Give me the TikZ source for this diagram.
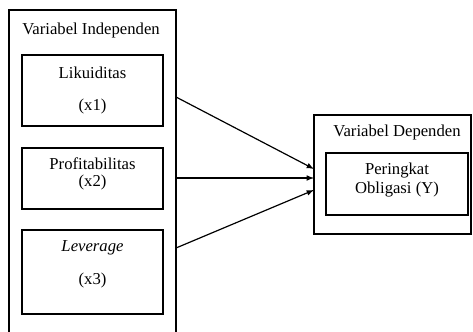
\documentclass[tikz,border=0pt]{standalone}
\usepackage{fontspec}
\setmainfont{Liberation Serif}

\tikzstyle{outerbox} = [draw,line width=0.8pt,inner sep=0pt]
\tikzstyle{varbox} = [draw,line width=0.8pt,inner sep=0pt]
\tikzstyle{label} = [font=\fontsize{12.5}{14}\selectfont,inner sep=0pt]
\tikzstyle{arrowdecorate} = [->,>=latex,line width=0.9pt]

\begin{document}
\begin{tikzpicture}[x=0.75pt,y=-0.75pt]
    \clip (0,0) rectangle (473,331);
    %% boxes
    \node[outerbox, minimum width=167*0.75pt, minimum height=360*0.75pt] (indep) at (92.5,190) {};
    \node[outerbox, minimum width=157*0.75pt, minimum height=119*0.75pt] (dep) at (392.5,174.5) {};
    \foreach \nodename/\x/\y/\w/\h in {
      likuiditas/92.5/90.5/141/71,
      profit/92.5/178.5/141/61,
      leverage/92.5/272/141/84,
      peringkat/397/184/142/62}
    {
      \node[varbox, minimum width=\w*0.75pt, minimum height=\h*0.75pt] (\nodename) at (\x,\y) {};
    }
    %% texts
    \node[label] at (91,30) {Variabel Independen};
    \node[label] at (397,132) {Variabel Dependen};
    \node[label] at (likuiditas.center) [yshift=13pt] {Likuiditas};
    \node[label] at (likuiditas.center) [yshift=-12pt] {(x1)};
    \node[label] at (profit.center) [yshift=11pt] {Profitabilitas};
    \node[label] at (profit.center) [yshift=-3pt] {(x2)};
    \node[label] at (leverage.center) [yshift=18pt] {\itshape Leverage};
    \node[label] at (leverage.center) [yshift=-6pt] {(x3)};
    \node[label] at (peringkat.center) [yshift=10pt] {Peringkat};
    \node[label] at (peringkat.center) [yshift=-4pt] {Obligasi (Y)};
    %% arrows
    \coordinate (a1) at (176,97);
    \coordinate (a2) at (176,178);
    \coordinate (a3) at (176,248);
    \coordinate (b1) at (314,169);
    \coordinate (b2) at (314,178);
    \coordinate (b3) at (314,190);
    \foreach \startnode/\endnode in {a1/b1, a2/b2, a3/b3}
    {
      \draw[arrowdecorate] (\startnode) -- (\endnode);
    }
\end{tikzpicture}
\end{document}
